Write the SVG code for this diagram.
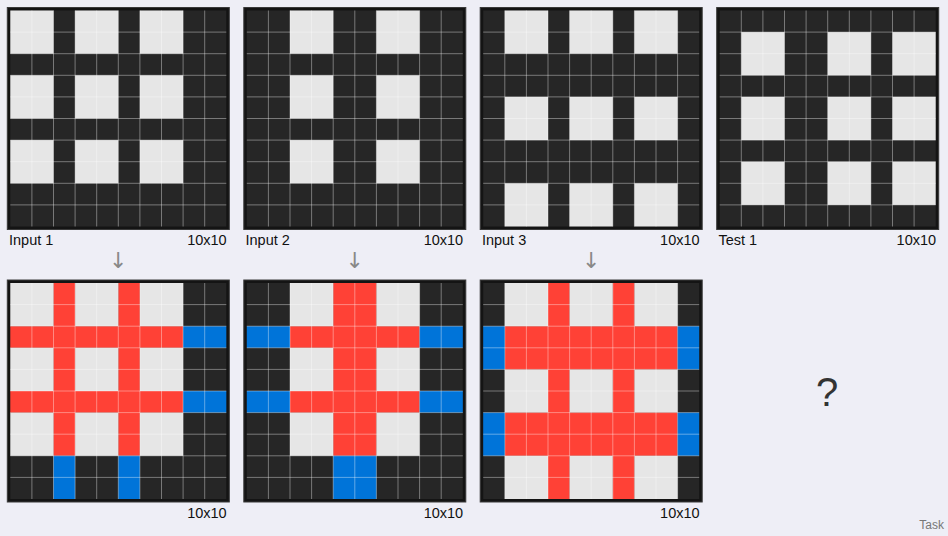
<svg xmlns="http://www.w3.org/2000/svg" xmlns:xlink="http://www.w3.org/1999/xlink" width="948" height="536" viewBox="0 0 948 536">
<style>
.frame{fill:#141414;stroke:#3a3a3a;stroke-width:1}
.k{fill:#262626}
.w{fill:#e6e6e6}
.r{fill:#ff4136}
.b{fill:#0074d9}
.gl{fill:none;stroke:#ffffff;stroke-opacity:0.38;stroke-width:1;vector-effect:non-scaling-stroke}
.lbl{font-family:"Liberation Sans",Arial,sans-serif;font-size:14.5px;fill:#111}
.arr{font-family:"DejaVu Sans",sans-serif;font-size:22px;fill:#888;text-anchor:middle}
</style>
<defs>
<path id="gl" class="gl" d="M1 0V10M2 0V10M3 0V10M4 0V10M5 0V10M6 0V10M7 0V10M8 0V10M9 0V10M0 1H10M0 2H10M0 3H10M0 4H10M0 5H10M0 6H10M0 7H10M0 8H10M0 9H10"/>
</defs>
<rect width="948" height="536" fill="#eeeef6"/>

<g id="input1" transform="translate(10.3,10.5)">
<rect class="frame" x="-3" y="-3" width="222" height="222"/>
<g transform="scale(21.6)">
<rect class="k" width="10" height="10"/>
<rect class="w" x="0" y="0" width="2" height="2"/><rect class="w" x="3" y="0" width="2" height="2"/><rect class="w" x="6" y="0" width="2" height="2"/>
<rect class="w" x="0" y="3" width="2" height="2"/><rect class="w" x="3" y="3" width="2" height="2"/><rect class="w" x="6" y="3" width="2" height="2"/>
<rect class="w" x="0" y="6" width="2" height="2"/><rect class="w" x="3" y="6" width="2" height="2"/><rect class="w" x="6" y="6" width="2" height="2"/>
<use xlink:href="#gl"/>
</g>
</g>
<text class="lbl" x="9" y="245">Input 1</text>
<text class="lbl" x="226.7" y="245" text-anchor="end">10x10</text>

<g id="input2" transform="translate(246.8,10.5)">
<rect class="frame" x="-3" y="-3" width="222" height="222"/>
<g transform="scale(21.6)">
<rect class="k" width="10" height="10"/>
<rect class="w" x="2" y="0" width="2" height="2"/><rect class="w" x="6" y="0" width="2" height="2"/>
<rect class="w" x="2" y="3" width="2" height="2"/><rect class="w" x="6" y="3" width="2" height="2"/>
<rect class="w" x="2" y="6" width="2" height="2"/><rect class="w" x="6" y="6" width="2" height="2"/>
<use xlink:href="#gl"/>
</g>
</g>
<text class="lbl" x="245.5" y="245">Input 2</text>
<text class="lbl" x="463.2" y="245" text-anchor="end">10x10</text>

<g id="input3" transform="translate(483.2,10.5)">
<rect class="frame" x="-3" y="-3" width="222" height="222"/>
<g transform="scale(21.6)">
<rect class="k" width="10" height="10"/>
<rect class="w" x="1" y="0" width="2" height="2"/><rect class="w" x="4" y="0" width="2" height="2"/><rect class="w" x="7" y="0" width="2" height="2"/>
<rect class="w" x="1" y="4" width="2" height="2"/><rect class="w" x="4" y="4" width="2" height="2"/><rect class="w" x="7" y="4" width="2" height="2"/>
<rect class="w" x="1" y="8" width="2" height="2"/><rect class="w" x="4" y="8" width="2" height="2"/><rect class="w" x="7" y="8" width="2" height="2"/>
<use xlink:href="#gl"/>
</g>
</g>
<text class="lbl" x="481.9" y="245">Input 3</text>
<text class="lbl" x="699.6" y="245" text-anchor="end">10x10</text>

<g id="test1" transform="translate(719.7,10.5)">
<rect class="frame" x="-3" y="-3" width="222" height="222"/>
<g transform="scale(21.6)">
<rect class="k" width="10" height="10"/>
<rect class="w" x="1" y="1" width="2" height="2"/><rect class="w" x="5" y="1" width="2" height="2"/><rect class="w" x="8" y="1" width="2" height="2"/>
<rect class="w" x="1" y="4" width="2" height="2"/><rect class="w" x="5" y="4" width="2" height="2"/><rect class="w" x="8" y="4" width="2" height="2"/>
<rect class="w" x="1" y="7" width="2" height="2"/><rect class="w" x="5" y="7" width="2" height="2"/><rect class="w" x="8" y="7" width="2" height="2"/>
<use xlink:href="#gl"/>
</g>
</g>
<text class="lbl" x="718.4" y="245">Test 1</text>
<text class="lbl" x="936.1" y="245" text-anchor="end">10x10</text>

<g id="connectors">
<text class="arr" x="118.3" y="268">↓</text>
<text class="arr" x="354.8" y="268">↓</text>
<text class="arr" x="591.2" y="268">↓</text>
</g>

<g id="output1" transform="translate(10.3,283)">
<rect class="frame" x="-3" y="-3" width="222" height="222"/>
<g transform="scale(21.6)">
<rect class="k" width="10" height="10"/>
<rect class="w" x="0" y="0" width="2" height="2"/><rect class="w" x="3" y="0" width="2" height="2"/><rect class="w" x="6" y="0" width="2" height="2"/>
<rect class="w" x="0" y="3" width="2" height="2"/><rect class="w" x="3" y="3" width="2" height="2"/><rect class="w" x="6" y="3" width="2" height="2"/>
<rect class="w" x="0" y="6" width="2" height="2"/><rect class="w" x="3" y="6" width="2" height="2"/><rect class="w" x="6" y="6" width="2" height="2"/>
<rect class="r" x="2" y="0" width="1" height="8"/><rect class="r" x="5" y="0" width="1" height="8"/>
<rect class="r" x="0" y="2" width="8" height="1"/><rect class="r" x="0" y="5" width="8" height="1"/>
<rect class="b" x="8" y="2" width="2" height="1"/><rect class="b" x="8" y="5" width="2" height="1"/>
<rect class="b" x="2" y="8" width="1" height="2"/><rect class="b" x="5" y="8" width="1" height="2"/>
<use xlink:href="#gl"/>
</g>
</g>
<text class="lbl" x="226.7" y="518" text-anchor="end">10x10</text>

<g id="output2" transform="translate(246.8,283)">
<rect class="frame" x="-3" y="-3" width="222" height="222"/>
<g transform="scale(21.6)">
<rect class="k" width="10" height="10"/>
<rect class="w" x="2" y="0" width="2" height="2"/><rect class="w" x="6" y="0" width="2" height="2"/>
<rect class="w" x="2" y="3" width="2" height="2"/><rect class="w" x="6" y="3" width="2" height="2"/>
<rect class="w" x="2" y="6" width="2" height="2"/><rect class="w" x="6" y="6" width="2" height="2"/>
<rect class="r" x="4" y="0" width="2" height="8"/>
<rect class="r" x="2" y="2" width="6" height="1"/><rect class="r" x="2" y="5" width="6" height="1"/>
<rect class="b" x="0" y="2" width="2" height="1"/><rect class="b" x="8" y="2" width="2" height="1"/>
<rect class="b" x="0" y="5" width="2" height="1"/><rect class="b" x="8" y="5" width="2" height="1"/>
<rect class="b" x="4" y="8" width="2" height="2"/>
<use xlink:href="#gl"/>
</g>
</g>
<text class="lbl" x="463.2" y="518" text-anchor="end">10x10</text>

<g id="output3" transform="translate(483.2,283)">
<rect class="frame" x="-3" y="-3" width="222" height="222"/>
<g transform="scale(21.6)">
<rect class="k" width="10" height="10"/>
<rect class="w" x="1" y="0" width="2" height="2"/><rect class="w" x="4" y="0" width="2" height="2"/><rect class="w" x="7" y="0" width="2" height="2"/>
<rect class="w" x="1" y="4" width="2" height="2"/><rect class="w" x="4" y="4" width="2" height="2"/><rect class="w" x="7" y="4" width="2" height="2"/>
<rect class="w" x="1" y="8" width="2" height="2"/><rect class="w" x="4" y="8" width="2" height="2"/><rect class="w" x="7" y="8" width="2" height="2"/>
<rect class="r" x="3" y="0" width="1" height="10"/><rect class="r" x="6" y="0" width="1" height="10"/>
<rect class="r" x="1" y="2" width="8" height="2"/><rect class="r" x="1" y="6" width="8" height="2"/>
<rect class="b" x="0" y="2" width="1" height="2"/><rect class="b" x="9" y="2" width="1" height="2"/>
<rect class="b" x="0" y="6" width="1" height="2"/><rect class="b" x="9" y="6" width="1" height="2"/>
<use xlink:href="#gl"/>
</g>
</g>
<text class="lbl" x="699.6" y="518" text-anchor="end">10x10</text>

<g id="answer">
<text x="827" y="406" font-family="Liberation Sans,Arial,sans-serif" font-size="40" fill="#333" text-anchor="middle">?</text>
</g>
<text x="944" y="529" font-family="Liberation Sans,Arial,sans-serif" font-size="12" fill="#777" text-anchor="end">Task</text>
</svg>
